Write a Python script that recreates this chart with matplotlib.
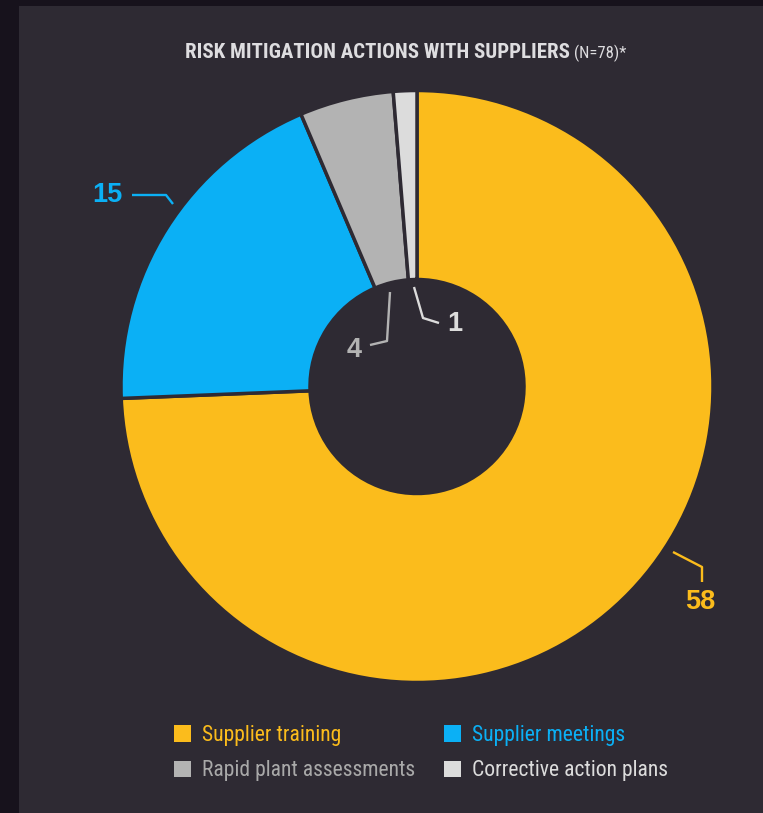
import matplotlib
matplotlib.use('Agg')
import matplotlib.pyplot as plt
from matplotlib import font_manager as fm
from matplotlib.patches import Rectangle, Patch

# Survey answers, N=78
labels = ['Supplier training', 'Supplier meetings',
          'Rapid plant assessments', 'Corrective action plans']
counts = [58, 15, 4, 1]
colors = ['#fbbc1c', '#0bb0f5', '#b3b3b3', '#dcdcdc']
text_colors = ['#fbbc1c', '#0bb0f5', '#a9a9a9', '#dcdcdc']

outer = '#17121c'
panel = '#2e2a33'


def narrow_font(bold):
    # look for a condensed face, else plain DejaVu
    prefs = ['Liberation Sans Narrow', 'Roboto Condensed', 'Open Sans Condensed',
             'DejaVu Sans Condensed', 'Noto Sans Condensed', 'DejaVu Sans']
    found = {}
    for f in fm.fontManager.ttflist:
        w = f.weight if isinstance(f.weight, int) else (700 if 'bold' in str(f.weight) else 400)
        if f.style != 'normal' or (w >= 600) != bold:
            continue
        cond = f.stretch in ('condensed', 'semi-condensed', 'extra-condensed')
        key = f.name + (' Condensed' if cond and 'Condensed' not in f.name
                        and 'Narrow' not in f.name else '')
        found.setdefault(key, f.fname)
    for p in prefs:
        if p in found:
            return fm.FontProperties(fname=found[p]), p
    return fm.FontProperties(family='DejaVu Sans',
                             weight='bold' if bold else 'normal'), 'DejaVu Sans'


reg_font, reg_name = narrow_font(False)
bold_font, bold_name = narrow_font(True)
squeeze = 1.0 if 'Narrow' in reg_name or 'Condensed' in reg_name else 0.82

W, H = 763, 813
fig = plt.figure(figsize=(W / 100, H / 100), dpi=100)
fig.patch.set_facecolor(outer)
fig.add_artist(Rectangle((19 / W, 0), 1 - 19 / W, 1 - 6 / H,
                         transform=fig.transFigure, facecolor=panel,
                         edgecolor='none', zorder=-5))

# axes in pixel units, y pointing up
ax = fig.add_axes([0, 0, 1, 1])
ax.patch.set_alpha(0)


def px(x, y):
    return x, H - y


wedges, _ = ax.pie(counts, colors=colors, startangle=90, counterclock=False,
                   radius=296, center=px(417, 386.5),
                   wedgeprops=dict(width=189, edgecolor=panel, linewidth=2.5))
ax.set_xlim(0, W)
ax.set_ylim(0, H)
ax.set_aspect('auto')
ax.axis('off')

# value labels with elbow leaders
leaders = [
    [(673, 552), (702, 567), (702, 582)],
    [(132, 195), (166, 195), (173, 204)],
    [(370, 345), (387, 341), (390, 292)],
    [(439, 323), (423, 318), (414, 287)],
]
label_pos = [(700, 602, 'center'), (122, 195, 'right'),
             (362, 350, 'right'), (447, 324, 'left')]
for n, pts, (lx, ly, ha), c in zip(counts, leaders, label_pos, colors):
    xs, ys = zip(*[px(*p) for p in pts])
    ax.plot(xs, ys, color=c, lw=1.7, solid_capstyle='butt')
    ax.text(*px(lx, ly), str(n), color=c, fontsize=19.5, fontweight='bold',
            family=['Liberation Sans', 'DejaVu Sans'], ha=ha, va='center')

# title: bold part plus smaller sample size, centred as a pair
tfont = bold_font.copy()
tfont.set_size(15 * squeeze)
nfont = reg_font.copy()
nfont.set_size(12 * squeeze)
title = ax.text(*px(189, 62), 'RISK MITIGATION ACTIONS WITH SUPPLIERS',
                color='#dedde0', fontproperties=tfont, ha='left', va='bottom')
note = ax.annotate('(N=78)*', xy=(1, 0), xycoords=title, xytext=(3, 0),
                   textcoords='offset points', color='#dedde0',
                   fontproperties=nfont, ha='left', va='bottom')
fig.canvas.draw()
r = fig.canvas.get_renderer()
span = note.get_window_extent(r).x1 - title.get_window_extent(r).x0
title.set_x(406 - span / 2)

# legend laid out row by row: training / meetings, rapid / corrective
lfont = reg_font.copy()
lfont.set_size(15.6 * squeeze)
order = [0, 2, 1, 3]
handles = [Patch(facecolor=colors[i], edgecolor='none') for i in order]
leg = ax.legend(handles, [labels[i] for i in order], ncol=2,
                loc='upper left', bbox_to_anchor=(174 / W, 1 - 725 / H),
                bbox_transform=fig.transFigure, frameon=False,
                borderpad=0, borderaxespad=0,
                handlelength=0.78, handleheight=0.78, handletextpad=0.5,
                columnspacing=1.34, labelspacing=0.66, prop=lfont,
                labelcolor=[text_colors[i] for i in order])

fig.savefig('out.png', dpi=100, facecolor=fig.get_facecolor())
